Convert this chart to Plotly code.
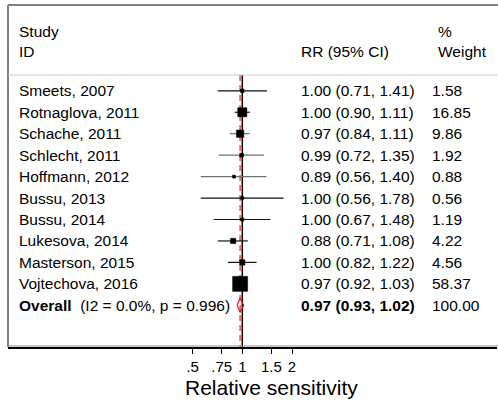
import plotly.graph_objects as go
import math

studies = ["Smeets, 2007", "Rotnaglova, 2011", "Schache, 2011", "Schlecht, 2011",
           "Hoffmann, 2012", "Bussu, 2013", "Bussu, 2014", "Lukesova, 2014",
           "Masterson, 2015", "Vojtechova, 2016"]
rr = [1.00, 1.00, 0.97, 0.99, 0.89, 1.00, 1.00, 0.88, 1.00, 0.97]
lo = [0.71, 0.90, 0.84, 0.72, 0.56, 0.56, 0.67, 0.71, 0.82, 0.92]
hi = [1.41, 1.11, 1.11, 1.35, 1.40, 1.78, 1.48, 1.08, 1.22, 1.03]
weight = [1.58, 16.85, 9.86, 1.92, 0.88, 0.56, 1.19, 4.22, 4.56, 58.37]
overall = {"rr": 0.97, "lo": 0.93, "hi": 1.02, "weight": 100.00, "i2": "0.0%", "p": "0.996"}
tickvals = [0.5, 0.75, 1, 1.5, 2]
ticktext = [".5", ".75", "1", "1.5", "2"]

FONT = "Liberation Sans, Arial, Helvetica, sans-serif"
FS = 15.5
W, H = 498, 401
ML, MR, MT, MB = 8, 1, 5, 54
pw = W - ML - MR
ph = H - MT - MB

# x geometry: value 1 at pixel 242.3, 71.7 px per ln unit
cx, k = 242.3, 71.7
xr = [((ML - cx) / k) / math.log(10), ((W - MR - cx) / k) / math.log(10)]
# y geometry: row 0 at pixel 90.8, 21.45 px per row
y0, dy = 90.8, 21.45
yr = [(H - MB - y0) / dy, (MT - y0) / dy]

def py(p):
    return (p - y0) / dy

def pxp(p):
    return (p - ML) / pw

def pyp(p):
    return (H - MB - p) / ph

n = len(studies)
rows = list(range(n))
fig = go.Figure()

# CI lines
gray_rows = {2, 3, 4}
for grp, col in [(False, "#111111"), (True, "#6e6e6e")]:
    xs, ys = [], []
    for i in rows:
        if (i in gray_rows) == grp:
            xs += [lo[i], hi[i], None]
            ys += [i, i, None]
    fig.add_trace(go.Scatter(x=xs, y=ys, mode="lines", line=dict(color=col, width=1.2),
                             hoverinfo="skip", showlegend=False))

# weight squares
sizes = [max(3, 2.95 * w ** 0.4) for w in weight]
fig.add_trace(go.Scatter(x=rr, y=rows, mode="markers",
                         marker=dict(symbol="square", size=sizes, color="black", opacity=1,
                                     line=dict(width=0.5, color="black")),
                         showlegend=False, hoverinfo="skip"))

# overall diamond
oy = n
hh = 0.33
fig.add_trace(go.Scatter(x=[overall["lo"], overall["rr"], overall["hi"], overall["rr"], overall["lo"]],
                         y=[oy, oy - hh, oy, oy + hh, oy], mode="lines",
                         line=dict(color="#e8141c", width=1.2), showlegend=False, hoverinfo="skip"))

shapes = []
sep_y = py(75)
# overall dashed line and null line (below marks)
shapes.append(dict(type="line", xref="x", yref="y", x0=overall["rr"], x1=overall["rr"],
                   y0=sep_y, y1=yr[0], line=dict(color="#ec6b6b", width=1.8, dash="6px,4px"),
                   layer="below"))
shapes.append(dict(type="line", xref="x", yref="y", x0=1, x1=1, y0=sep_y, y1=yr[0],
                   line=dict(color="black", width=1.5), layer="below"))
# frame
shapes.append(dict(type="line", xref="paper", yref="paper", x0=0, x1=1.01, y0=1, y1=1,
                   line=dict(color="#808080", width=2)))
shapes.append(dict(type="line", xref="paper", yref="paper", x0=0, x1=0, y0=0, y1=1,
                   line=dict(color="#808080", width=2)))
shapes.append(dict(type="line", xref="paper", yref="y", x0=0, x1=1.01, y0=sep_y, y1=sep_y,
                   line=dict(color="#cccccc", width=1)))
shapes.append(dict(type="line", xref="paper", yref="paper", x0=0, x1=1.01, y0=pyp(346), y1=pyp(346),
                   line=dict(color="#909090", width=1)))

ann = []
def txt(x, y, s, size=FS, yref="y", xanchor="left"):
    ann.append(dict(x=x, y=y, xref="paper", yref=yref, text=s, showarrow=False,
                    xanchor=xanchor, yanchor="middle",
                    font=dict(family=FONT, size=size, color="black")))

x_lab, x_rr, x_w, x_wh = pxp(16.7), pxp(299.3), pxp(429.5), pxp(435.5)
txt(x_lab, py(31), "Study")
txt(x_lab, py(51), "ID")
txt(x_rr, py(51), "RR (95% CI)")
txt(x_wh, py(31), "%")
txt(x_wh, py(51), "Weight")
for i in rows:
    txt(x_lab, i, studies[i])
    txt(x_rr, i, f"{rr[i]:.2f} ({lo[i]:.2f}, {hi[i]:.2f})")
    txt(x_w, i, f"{weight[i]:.2f}")
txt(x_lab, oy, f"<b>Overall</b>\u00a0\u00a0(I2 = {overall['i2']}, p = {overall['p']})")
txt(x_rr, oy, f"<b>{overall['rr']:.2f} ({overall['lo']:.2f}, {overall['hi']:.2f})</b>")
txt(x_w, oy, f"{overall['weight']:.2f}")
# axis title
txt(pxp(271.5), pyp(387.5), "Relative sensitivity", size=21, yref="paper", xanchor="center")

fig.update_layout(
    width=W, height=H, margin=dict(l=ML, r=MR, t=MT, b=MB),
    paper_bgcolor="white", plot_bgcolor="white",
    shapes=shapes, annotations=ann,
    xaxis=dict(type="log", range=xr, tickvals=tickvals, ticktext=ticktext,
               ticks="outside", ticklen=5, tickwidth=1, tickcolor="black",
               showline=True, linecolor="black", linewidth=1.5, showgrid=False, zeroline=False,
               tickfont=dict(family=FONT, size=15, color="black")),
    yaxis=dict(range=yr, showgrid=False, zeroline=False, showticklabels=False, showline=False),
)

fig.write_html("out.html")
